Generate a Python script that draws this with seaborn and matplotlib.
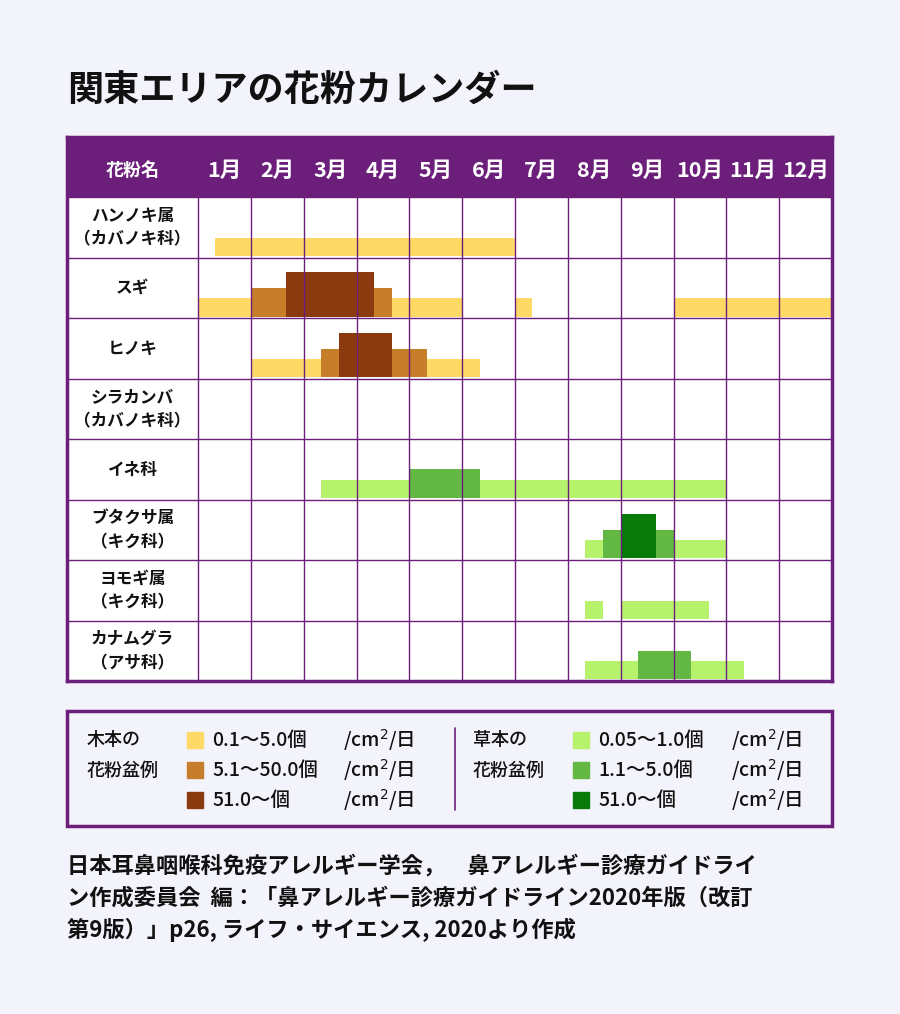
import matplotlib.pyplot as plt
import matplotlib.patches as mpatches
import seaborn as sns
sns.set_theme(style="white")
plt.rcParams['font.family'] = ['Noto Sans CJK JP', 'DejaVu Sans']

# data: month units, 0 = start of January
plants = ['ハンノキ属\n（カバノキ科）', 'スギ', 'ヒノキ', 'シラカンバ\n（カバノキ科）', 'イネ科',
          'ブタクサ属\n（キク科）', 'ヨモギ属\n（キク科）', 'カナムグラ\n（アサ科）']
months = ['1月', '2月', '3月', '4月', '5月', '6月', '7月', '8月', '9月', '10月', '11月', '12月']
# (row, start, end, level)  level 0 = low, 1 = mid, 2 = high
tree_bars = [
    (0, 0.33, 6.0, 0),
    (1, 0.0, 5.0, 0), (1, 6.0, 6.33, 0), (1, 9.0, 12.0, 0),
    (1, 1.0, 3.67, 1), (1, 1.67, 3.33, 2),
    (2, 1.0, 5.33, 0), (2, 2.33, 4.33, 1), (2, 2.67, 3.67, 2),
]
grass_bars = [
    (4, 2.33, 10.0, 0), (4, 4.0, 5.33, 1),
    (5, 7.33, 10.0, 0), (5, 7.67, 9.0, 1), (5, 8.0, 8.67, 2),
    (6, 7.33, 7.67, 0), (6, 8.0, 9.67, 0),
    (7, 7.33, 10.33, 0), (7, 8.33, 9.33, 1),
]
tree_colors = ['#ffd966', '#c67e2a', '#8b3a0f']
grass_colors = ['#b6f26c', '#62b842', '#087a0a']
tree_labels = ['0.1〜5.0個', '5.1〜50.0個', '51.0〜個']
grass_labels = ['0.05〜1.0個', '1.1〜5.0個', '51.0〜個']
heights = [0.30, 0.47, 0.73]

purple = '#6b1f7b'
bg = '#f3f3fb'
W, H = 900, 1014
fig = plt.figure(figsize=(9, 10.14), dpi=100, facecolor=bg)

def fx(px): return px / W
def fy(py): return 1 - py / H

ax = fig.add_axes([fx(67), fy(681), fx(832) - fx(67), (681 - 137) / H])
xmin = -2.48
ax.set_xlim(xmin, 12)
ax.set_ylim(9, 0)
ax.set_facecolor('white')
ax.axhspan(0, 1, color=purple, zorder=0)
for i, m in enumerate(months):
    ax.text(i + 0.5, 0.55, m, ha='center', va='center', color='white', fontsize=15.5, fontweight='bold')
ax.text(xmin / 2, 0.55, '花粉名', ha='center', va='center', color='white', fontsize=13, fontweight='bold')
for i, p in enumerate(plants):
    ax.text(xmin / 2, i + 1.5, p, ha='center', va='center', fontsize=12, fontweight='bold',
            color='#111111', linespacing=1.45)

def draw(bars, colors):
    for lvl in range(3):
        for row, s, e, l in bars:
            if l != lvl:
                continue
            bottom = row + 2 - 0.03
            h = heights[l]
            ax.barh(bottom - h / 2, e - s, left=s, height=h, color=colors[l], zorder=2, linewidth=0)

draw(tree_bars, tree_colors)
draw(grass_bars, grass_colors)

for x in range(0, 12):
    ax.plot([x, x], [1, 9], color=purple, lw=1, zorder=3)
for y in range(2, 9):
    ax.plot([xmin, 12], [y, y], color=purple, lw=1, zorder=3)
ax.set_xticks([])
ax.set_yticks([])
for s in ax.spines.values():
    s.set_color(purple)
    s.set_linewidth(2.5)

# title
fig.text(fx(67), fy(90), '関東エリアの花粉カレンダー', fontsize=26, fontweight='bold', va='center', color='#111111')

# legend box
fig.patches.append(mpatches.Rectangle((fx(67), fy(826)), fx(832) - fx(67), (826 - 711) / H,
                                      transform=fig.transFigure, fill=False, ec=purple, lw=2.5))
fig.add_artist(plt.Line2D([fx(455), fx(455)], [fy(728), fy(810)], color=purple, lw=1.2))

def legend_block(x0, title, colors, labels, xunit):
    fig.text(fx(x0), fy(740), title[0], fontsize=13, fontweight='medium', va='center', color='#111111')
    fig.text(fx(x0), fy(771), title[1], fontsize=13, fontweight='medium', va='center', color='#111111')
    for i, (c, lab) in enumerate(zip(colors, labels)):
        yc = 740 + i * 30
        fig.patches.append(mpatches.Rectangle((fx(x0 + 100), fy(yc + 8)), fx(16), 16 / H,
                                              transform=fig.transFigure, color=c))
        fig.text(fx(x0 + 125), fy(yc), lab, fontsize=14, fontweight='medium', va='center', color='#111111')
        fig.text(fx(xunit), fy(yc), '/cm$^2$/日', fontsize=14, fontweight='medium', va='center', color='#111111')

legend_block(87, ['木本の', '花粉盆例'], tree_colors, tree_labels, 343)
legend_block(473, ['草本の', '花粉盆例'], grass_colors, grass_labels, 731)

footer = ['日本耳鼻咽喉科免疫アレルギー学会，　鼻アレルギー診療ガイドライ',
          'ン作成委員会  編：「鼻アレルギー診療ガイドライン2020年版（改訂',
          '第9版）」p26, ライフ・サイエンス, 2020より作成']
for i, line in enumerate(footer):
    fig.text(fx(67), fy(866 + i * 32), line, fontsize=16, fontweight='bold', va='center', color='#111111')

fig.savefig('out.png', dpi=100, facecolor=bg)
